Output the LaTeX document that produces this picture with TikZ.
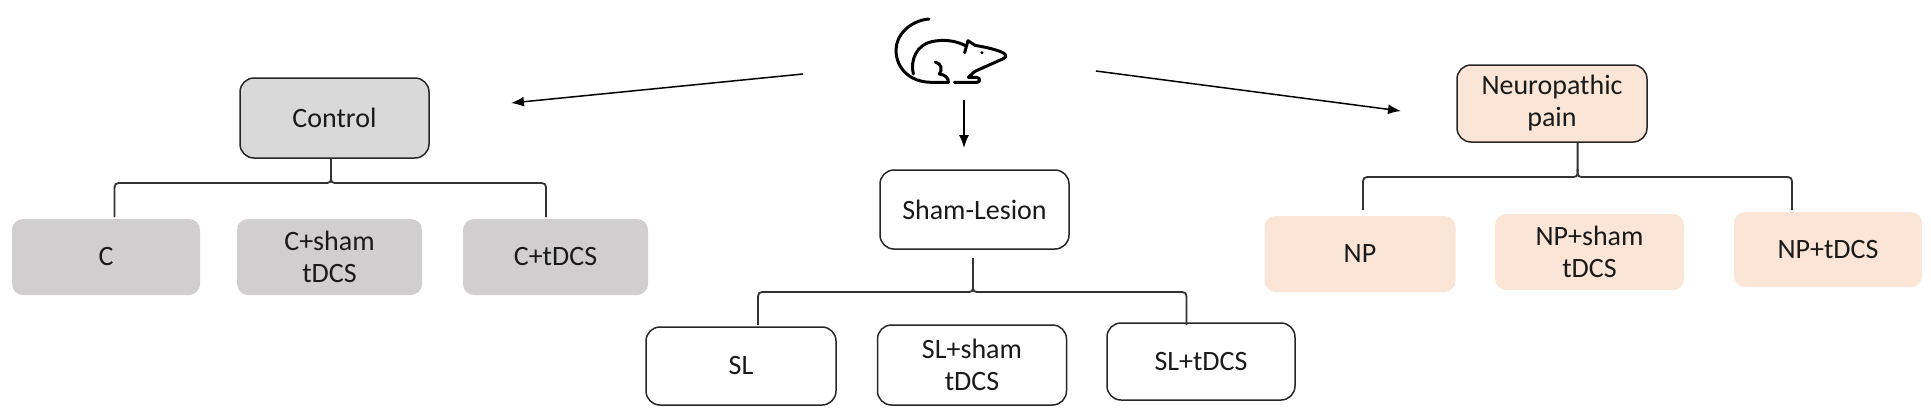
\documentclass[tikz,border=0pt]{standalone}
\usepackage{fontspec}
\setmainfont{Carlito}
\usetikzlibrary{arrows.meta}
\definecolor{boxgray}{HTML}{D0CECE}
\definecolor{topgray}{HTML}{D9D9D9}
\definecolor{peach}{HTML}{FBE5D6}
\definecolor{txt}{HTML}{1A1A1A}
\tikzset{
  base/.style={rounded corners=14pt, align=center, inner sep=0pt, text=txt,
    font=\fontsize{28}{32}\selectfont},
  topbox/.style={base, draw=black!85, line width=1.5pt},
  leafbox/.style={base, rounded corners=11pt},
  wbox/.style={base, draw=black!85, line width=1.5pt, fill=white},
  arr/.style={line width=1.5pt, -{Latex[length=13pt,width=10pt]}},
  bracestyle/.style={line width=1.8pt, draw=black!80},
  mouseline/.style={line width=3pt, line cap=round, line join=round}
}
\newcommand{\mybrace}[6]{% tipx, tiptop, yh, xl, xr, ybot
  \draw[bracestyle] (#4,#6) -- (#4,#3+9) .. controls (#4,#3) .. (#4+9,#3)
     -- (#1-8,#3) .. controls (#1,#3) .. (#1,#3-8) -- (#1,#2);
  \draw[bracestyle] (#5,#6) -- (#5,#3+9) .. controls (#5,#3) .. (#5-9,#3)
     -- (#1+8,#3) .. controls (#1,#3) .. (#1,#3-8);
}
\begin{document}
\begin{tikzpicture}[x=1pt,y=-1pt]
\useasboundingbox (0,0) rectangle (1931,413);

% mouse icon
\begin{scope}[shift={(860,0)}, x=0.3333pt, y=-0.3333pt, mouseline]
  % tail and belly
  \draw (207,57) .. controls (150,62) and (108,105) .. (108,150)
        .. controls (108,205) and (150,247) .. (215,247) -- (265,247);
  % back
  \draw (160,222) .. controls (150,180) and (170,135) .. (215,125)
        .. controls (250,117) and (290,122) .. (318,138);
  % ear
  \draw (314,158) -- (324,122) -- (345,136);
  % head
  \draw (345,136) .. controls (380,142) and (415,150) .. (432,160)
        .. controls (440,166) and (438,172) .. (430,176)
        -- (345,214);
  % front foot
  \draw (345,214) .. controls (335,222) and (330,228) .. (325,232)
        -- (350,232) .. controls (362,234) and (362,247) .. (350,247) -- (283,247);
  % hind leg
  \draw (226,186) .. controls (245,190) and (248,210) .. (238,222)
        .. controls (258,224) and (266,236) .. (265,247);
  % eye
  \fill (366,158) circle (5);
\end{scope}

\coordinate (mL) at (803,74);
\coordinate (tL) at (511,103);
\coordinate (mB) at (964,100);
\coordinate (tB) at (964,148);
\coordinate (mR) at (1096,71);
\coordinate (tR) at (1401,111);
\draw[arr] (mL) -- (tL);
\draw[arr] (mB) -- (tB);
\draw[arr] (mR) -- (tR);

% Control group
\node[topbox, fill=topgray, minimum width=189pt, minimum height=80pt] (ctrl) at (334.5,118) {Control};
\node[leafbox, fill=boxgray, minimum width=188pt, minimum height=76pt] (c1) at (106,257) {C};
\node[leafbox, fill=boxgray, minimum width=185pt, minimum height=76pt] (c2) at (329.5,257) {C+sham\\tDCS};
\node[leafbox, fill=boxgray, minimum width=185pt, minimum height=76pt] (c3) at (555.5,257) {C+tDCS};
\mybrace{331}{158}{183}{114.5}{546}{217}

% Sham-lesion group
\node[wbox, minimum width=189pt, minimum height=79pt] (sham) at (974.5,209.5) {Sham-Lesion};
\node[wbox, minimum width=190pt, minimum height=78pt] (s1) at (741,366) {SL};
\node[wbox, minimum width=189pt, minimum height=80pt] (s2) at (972,365) {SL+sham\\tDCS};
\node[wbox, minimum width=188pt, minimum height=77pt] (s3) at (1201,361.5) {SL+tDCS};
\mybrace{973}{258}{292}{758}{1186.5}{325}

% Neuropathic group
\node[topbox, fill=peach, minimum width=190pt, minimum height=77pt] (np) at (1552,103.5) {Neuropathic\\pain};
\node[leafbox, fill=peach, minimum width=191pt, minimum height=76pt] (n1) at (1360,254) {NP};
\node[leafbox, fill=peach, minimum width=189pt, minimum height=76pt] (n2) at (1589.5,252) {NP+sham\\tDCS};
\node[leafbox, fill=peach, minimum width=188pt, minimum height=75pt] (n3) at (1828,249.5) {NP+tDCS};
\mybrace{1577.6}{142}{177}{1363}{1792}{210}
\end{tikzpicture}
\end{document}
